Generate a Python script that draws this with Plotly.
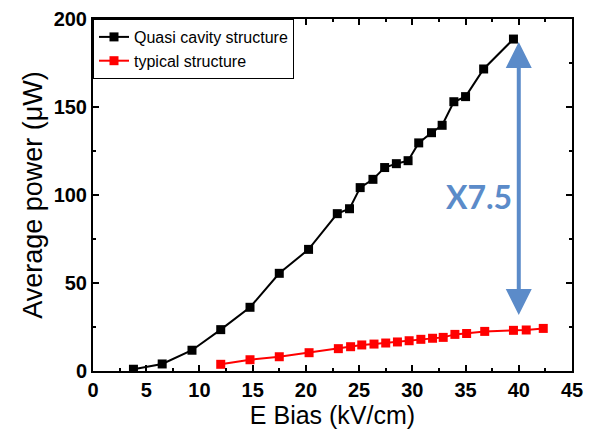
import plotly.graph_objects as go

# Data
bias_quasi = [3.8, 6.5, 9.3, 12.0, 14.75, 17.5, 20.25, 22.95, 24.1, 25.1, 26.3,
              27.4, 28.5, 29.6, 30.6, 31.8, 32.8, 33.9, 35.0, 36.7, 39.5]
power_quasi = [1.0, 4.0, 11.8, 23.5, 36.2, 55.5, 69.1, 89.4, 92.2, 104.2, 108.9,
               115.6, 117.8, 119.5, 129.6, 135.4, 139.6, 153.0, 155.9, 171.6, 188.6]

bias_typical = [12.0, 14.75, 17.5, 20.3, 23.05, 24.2, 25.25, 26.4, 27.5, 28.6,
                29.7, 30.8, 31.9, 32.9, 34.0, 35.1, 36.8, 39.5, 40.7, 42.3]
power_typical = [3.8, 6.4, 8.1, 10.4, 12.7, 13.8, 14.8, 15.3, 15.9, 16.5,
                 17.2, 18.0, 18.6, 19.1, 20.8, 21.3, 22.5, 23.1, 23.3, 24.2]

series_names = ["Quasi cavity structure", "typical structure"]
x_ticks = [0, 5, 10, 15, 20, 25, 30, 35, 40, 45]
y_ticks = [0, 50, 100, 150, 200]
ratio_label = "X7.5"
arrow_x = 40
arrow_top = 187
arrow_bottom = 31

FONT = "Liberation Sans, Arial, sans-serif"

fig = go.Figure()
fig.add_trace(go.Scatter(x=bias_quasi, y=power_quasi, mode="lines+markers",
                         name=series_names[0],
                         line=dict(color="black", width=2),
                         marker=dict(symbol="square", size=9, color="black")))
fig.add_trace(go.Scatter(x=bias_typical, y=power_typical, mode="lines+markers",
                         name=series_names[1],
                         line=dict(color="#ff0000", width=2),
                         marker=dict(symbol="square", size=9, color="#ff0000")))

blue = "#5b8bc9"
fig.add_annotation(x=arrow_x, y=arrow_top, ax=arrow_x, ay=arrow_bottom,
                   xref="x", yref="y", axref="x", ayref="y",
                   text="", showarrow=True, arrowhead=2, arrowsize=1.3,
                   arrowwidth=4, arrowcolor=blue, arrowside="end+start")
fig.add_annotation(x=36.3, y=99, xref="x", yref="y", text="<b>" + ratio_label + "</b>",
                   showarrow=False,
                   font=dict(family="Lato, Open Sans, sans-serif", size=32, color=blue))

axis_common = dict(showline=True, linecolor="black", linewidth=2, mirror="ticks",
                   ticks="inside", ticklen=6, tickwidth=2, tickcolor="black",
                   showgrid=False, zeroline=False,
                   tickfont=dict(family=FONT, size=20, color="black", weight="bold"))

fig.update_xaxes(range=[0, 45], tickvals=x_ticks,
                 minor=dict(ticks="inside", ticklen=3, tickwidth=2, dtick=2.5,
                            tick0=0, tickcolor="black"),
                 title=dict(text="E Bias (kV/cm)", standoff=4,
                            font=dict(family=FONT, size=25, color="black")),
                 **axis_common)
fig.update_yaxes(range=[0, 200], tickvals=y_ticks,
                 minor=dict(ticks="inside", ticklen=3, tickwidth=2, dtick=25,
                            tick0=0, tickcolor="black"),
                 title=dict(text="Average power (μW)", standoff=3,
                            font=dict(family=FONT, size=27, color="black")),
                 **axis_common)

# the page body adds an 8px offset; margins compensate so the plot area
# lands at x 93..572, y 19..371 in the window
fig.update_layout(
    width=596, height=435,
    margin=dict(l=85, r=32, t=11, b=72, autoexpand=False),
    plot_bgcolor="white", paper_bgcolor="white",
    font=dict(family=FONT, color="black"),
    legend=dict(x=0, y=1, xanchor="left", yanchor="top",
                bgcolor="white", bordercolor="black", borderwidth=1,
                font=dict(family=FONT, size=16, color="black"),
                tracegroupgap=0),
    showlegend=True,
)

fig.write_html("out.html")
